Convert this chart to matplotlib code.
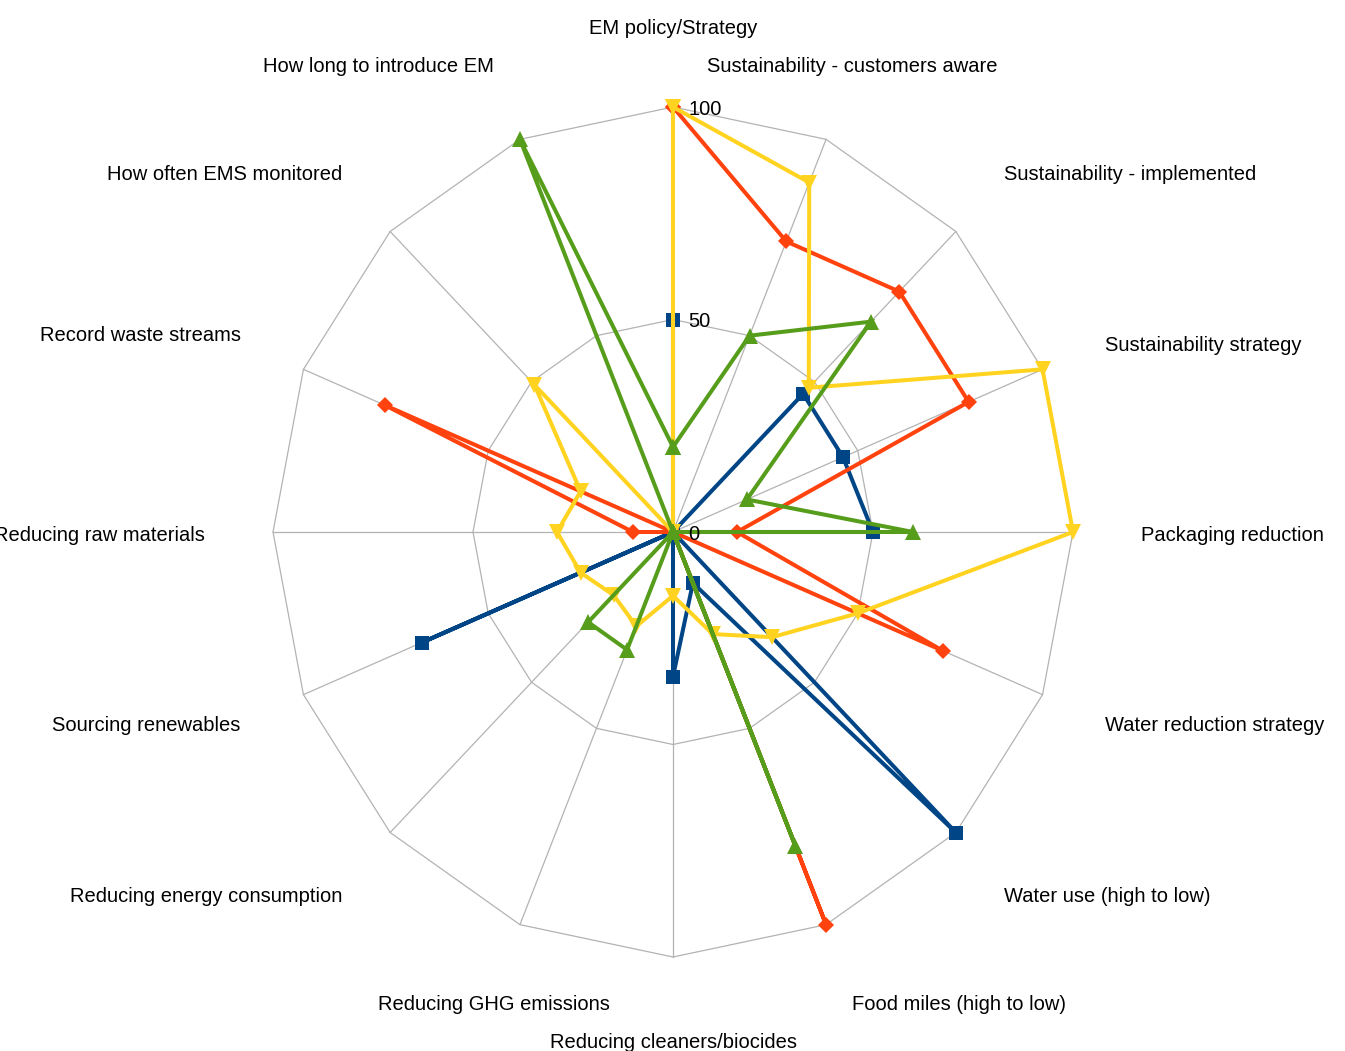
import numpy as np
import matplotlib
matplotlib.use("Agg")
import matplotlib.pyplot as plt

plt.rcParams['font.family'] = ['Liberation Sans', 'DejaVu Sans']

categories = ["EM policy/Strategy", "Sustainability - customers aware",
              "Sustainability - implemented", "Sustainability strategy",
              "Packaging reduction", "Water reduction strategy",
              "Water use (high to low)", "Food miles (high to low)",
              "Reducing cleaners/biocides", "Reducing GHG emissions",
              "Reducing energy consumption", "Sourcing renewables",
              "Reducing raw materials", "Record waste streams",
              "How often EMS monitored", "How long to introduce EM"]

blue_vals = [50, 0, 46, 46, 50, 0, 100, 13, 34, 0, 0, 68, 0, 0, 0, 0]
orange_vals = [100, 74, 80, 80, 16, 73, 0, 100, 0, 0, 0, 0, 10, 78, 0, 0]
yellow_vals = [100, 89, 48, 100, 100, 50, 35, 26, 15, 24, 21, 25, 29, 25, 49, 0]
green_vals = [20, 50, 70, 20, 60, 0, 0, 80, 0, 30, 30, 0, 0, 0, 0, 100]

ring_ticks = [0, 50, 100]

series = [
    (blue_vals, '#004586', 's', 10.5),
    (orange_vals, '#ff420e', 'D', 8.0),
    (yellow_vals, '#ffd320', 'v', 11.0),
    (green_vals, '#579d1c', '^', 11.0),
]

label_ha = ['center', 'center', 'left', 'left', 'left', 'left', 'left', 'left',
            'center', 'center', 'right', 'right', 'right', 'right', 'right', 'right']
label_va = ['bottom', 'bottom', 'bottom', 'center', 'center', 'center', 'top', 'top',
            'top', 'top', 'top', 'center', 'center', 'bottom', 'bottom', 'bottom']

W, H = 1345, 1051
fig = plt.figure(figsize=(W / 100, H / 100), dpi=100)
ax = fig.add_axes([273 / W, 94 / H, 800 / W, 850 / H], projection='polar')
ax.set_aspect('auto')
ax.set_theta_zero_location('N')
ax.set_theta_direction(-1)
ax.set_ylim(0, 100)
ax.grid(False)
ax.spines['polar'].set_visible(False)
ax.set_xticks([])
ax.set_yticks([])
ax.patch.set_alpha(0)

n = len(categories)
theta = np.arange(n) * 2 * np.pi / n
theta_c = np.append(theta, theta[0])

gridc = '#b3b3b3'
for rv in ring_ticks[1:]:
    ax.plot(theta_c, [rv] * (n + 1), color=gridc, lw=0.9, zorder=0, clip_on=False)
for t in theta:
    ax.plot([t, t], [0, ring_ticks[-1]], color=gridc, lw=0.9, zorder=0, clip_on=False)

for vals, col, mk, ms in series:
    v = np.append(vals, vals[0])
    ax.plot(theta_c, v, color=col, lw=2.9, marker=mk, markersize=ms,
            markeredgewidth=0, clip_on=False, zorder=2, solid_joinstyle='miter')

for rv in ring_ticks:
    ax.annotate(str(rv), xy=(0, rv), xytext=(11, -1.5), textcoords='offset points',
                ha='left', va='center', fontsize=14.5, color='black')

for i, lab in enumerate(categories):
    ax.annotate(lab, xy=(theta[i], 117), xytext=(0, -2.5), textcoords='offset points',
                ha=label_ha[i], va=label_va[i], fontsize=14.5, color='black',
                annotation_clip=False)

fig.savefig('out.png', dpi=100, facecolor='white')
